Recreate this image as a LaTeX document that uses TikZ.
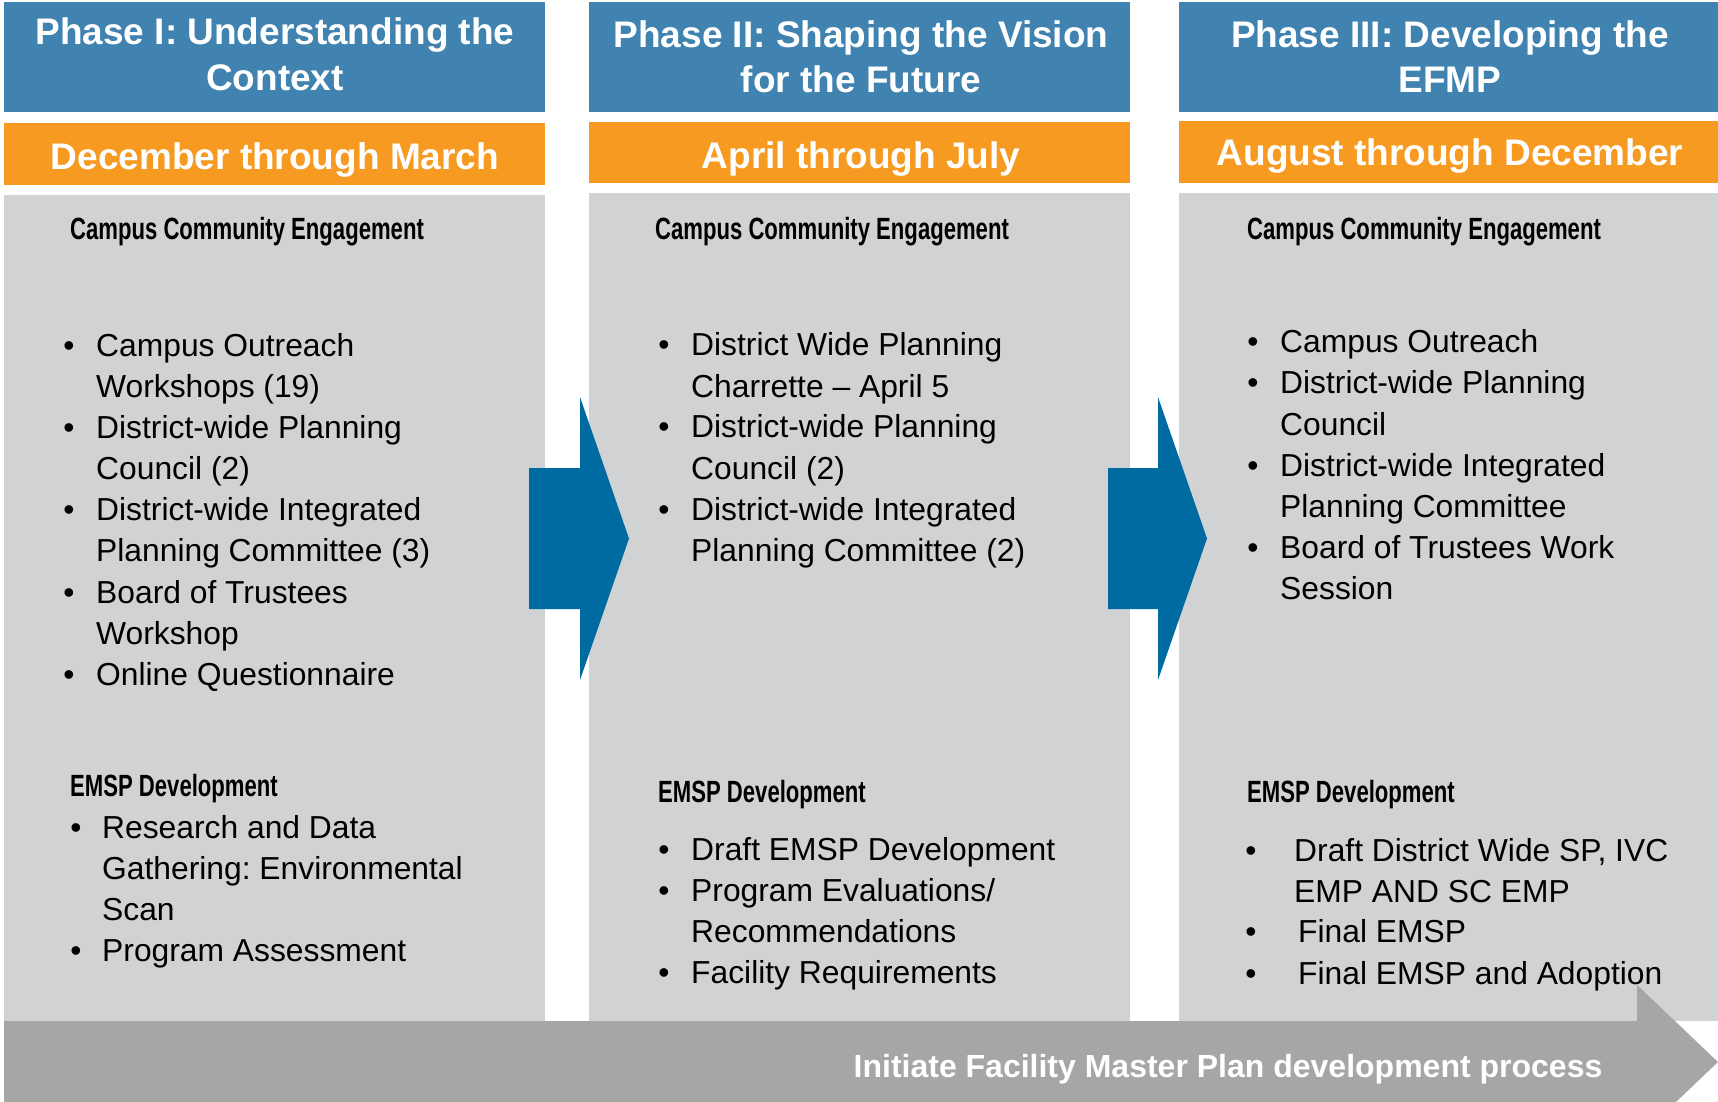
\documentclass[tikz,border=0pt]{standalone}
\usepackage{fontspec}
\setmainfont{Liberation Sans}
\newfontfamily\headfont[FakeStretch=0.72]{Liberation Sans}
\frenchspacing

\definecolor{phaseblue}{RGB}{64,130,176}
\definecolor{phaseorange}{RGB}{247,154,33}
\definecolor{panelgray}{RGB}{209,210,212}
\definecolor{flowblue}{RGB}{0,107,160}
\definecolor{basegray}{RGB}{166,166,166}

\begin{document}
\begin{tikzpicture}[x=1pt,y=-1pt,
  title/.style={anchor=base, inner sep=0pt, text=white,
    font=\fontsize{37}{44}\selectfont\bfseries},
  section/.style={anchor=base west, inner sep=0pt, text=black,
    font=\headfont\fontsize{30.7}{36}\selectfont\bfseries},
  item/.style={anchor=base west, inner sep=0pt, text=black,
    font=\fontsize{31.8}{41}\selectfont},
  dot/.style={anchor=base, inner sep=0pt, text=black,
    font=\fontsize{31.8}{41}\selectfont},
  banner/.style={anchor=base, inner sep=0pt, text=white,
    font=\fontsize{32}{38}\selectfont\bfseries}]

\useasboundingbox (0,0) rectangle (1718,1101);
\clip (0,0) rectangle (1718,1101);

% phase title bars
\fill[phaseblue] (4,2) rectangle (545,112);
\fill[phaseblue] (589,2) rectangle (1130,112);
\fill[phaseblue] (1179,2) rectangle (1718,112);

% date bars
\fill[phaseorange] (4,123) rectangle (545,185);
\fill[phaseorange] (589,122) rectangle (1130,183);
\fill[phaseorange] (1179,121) rectangle (1718,183);

% content panels
\fill[panelgray] (4,195) rectangle (545,1021);
\fill[panelgray] (589,193) rectangle (1130,1021);
\fill[panelgray] (1179,193) rectangle (1718,1021);

% block arrows between phases
\fill[flowblue] (529,468) -- (580,468) -- (580,397) -- (629,538.5)
  -- (580,680) -- (580,609) -- (529,609) -- cycle;
\fill[flowblue] (1108,468) -- (1158,468) -- (1158,397) -- (1207,538.5)
  -- (1158,680) -- (1158,609) -- (1108,609) -- cycle;

% base arrow along the bottom
\fill[basegray] (4,1021) -- (1637,1021) -- (1637,985) -- (1718,1062)
  -- (1637,1139) -- (1637,1103) -- (4,1103) -- cycle;
\node[banner] (base) at (1228,1077) {Initiate Facility Master Plan development process};

% titles
\node[title] (t1a) at (275,44) {Phase I: Understanding the};
\node[title] (t1b) at (275,90) {Context};
\node[title] (t2a) at (861,47) {Phase II: Shaping the Vision};
\node[title] (t2b) at (861,92) {for the Future};
\node[title] (t3a) at (1450,47) {Phase III: Developing the};
\node[title] (t3b) at (1450,92) {EFMP};

\node[title] (d1) at (275,169) {December through March};
\node[title] (d2) at (861,168) {April through July};
\node[title] (d3) at (1450,165) {August through December};

% ---------- Phase I ----------
\node[section] (s1a) at (70,239) {Campus Community Engagement};
\node[dot] (b1a) at (69,356) {•};
\node[item] (l1a) at (96,356) {Campus Outreach};
\node[item] (l1b) at (96,397) {Workshops (19)};
\node[dot] (b1b) at (69,438) {•};
\node[item] (l1c) at (96,438) {District-wide Planning};
\node[item] (l1d) at (96,479) {Council (2)};
\node[dot] (b1c) at (69,520) {•};
\node[item] (l1e) at (96,520) {District-wide Integrated};
\node[item] (l1f) at (96,561) {Planning Committee (3)};
\node[dot] (b1d) at (69,603) {•};
\node[item] (l1g) at (96,603) {Board of Trustees};
\node[item] (l1h) at (96,644) {Workshop};
\node[dot] (b1e) at (69,685) {•};
\node[item] (l1i) at (96,685) {Online Questionnaire};

\node[section] (s1b) at (70,796) {EMSP Development};
\node[dot] (b1f) at (76,838) {•};
\node[item] (m1a) at (102,838) {Research and Data};
\node[item] (m1b) at (102,879) {Gathering: Environmental};
\node[item] (m1c) at (102,920) {Scan};
\node[dot] (b1g) at (76,961) {•};
\node[item] (m1d) at (102,961) {Program Assessment};

% ---------- Phase II ----------
\node[section] (s2a) at (655,239) {Campus Community Engagement};
\node[dot] (b2a) at (664,355) {•};
\node[item] (l2a) at (691,355) {District Wide Planning};
\node[item] (l2b) at (691,397) {Charrette – April 5};
\node[dot] (b2b) at (664,437) {•};
\node[item] (l2c) at (691,437) {District-wide Planning};
\node[item] (l2d) at (691,479) {Council (2)};
\node[dot] (b2c) at (664,520) {•};
\node[item] (l2e) at (691,520) {District-wide Integrated};
\node[item] (l2f) at (691,561) {Planning Committee (2)};

\node[section] (s2b) at (658,802) {EMSP Development};
\node[dot] (b2d) at (664,860) {•};
\node[item] (m2a) at (691,860) {Draft EMSP Development};
\node[dot] (b2e) at (664,901) {•};
\node[item] (m2b) at (691,901) {Program Evaluations/};
\node[item] (m2c) at (691,942) {Recommendations};
\node[dot] (b2f) at (664,983) {•};
\node[item] (m2d) at (691,983) {Facility Requirements};

% ---------- Phase III ----------
\node[section] (s3a) at (1247,239) {Campus Community Engagement};
\node[dot] (b3a) at (1253,352) {•};
\node[item] (l3a) at (1280,352) {Campus Outreach};
\node[dot] (b3b) at (1253,393) {•};
\node[item] (l3b) at (1280,393) {District-wide Planning};
\node[item] (l3c) at (1280,435) {Council};
\node[dot] (b3c) at (1253,476) {•};
\node[item] (l3d) at (1280,476) {District-wide Integrated};
\node[item] (l3e) at (1280,517) {Planning Committee};
\node[dot] (b3d) at (1253,558) {•};
\node[item] (l3f) at (1280,558) {Board of Trustees Work};
\node[item] (l3g) at (1280,599) {Session};

\node[section] (s3b) at (1247,802) {EMSP Development};
\node[dot] (b3e) at (1251,861) {•};
\node[item] (m3a) at (1294,861) {Draft District Wide SP, IVC};
\node[item] (m3b) at (1294,902) {EMP AND SC EMP};
\node[dot] (b3f) at (1251,942) {•};
\node[item] (m3c) at (1298,942) {Final EMSP};
\node[dot] (b3g) at (1251,984) {•};
\node[item] (m3d) at (1298,984) {Final EMSP and Adoption};

\end{tikzpicture}
\end{document}
